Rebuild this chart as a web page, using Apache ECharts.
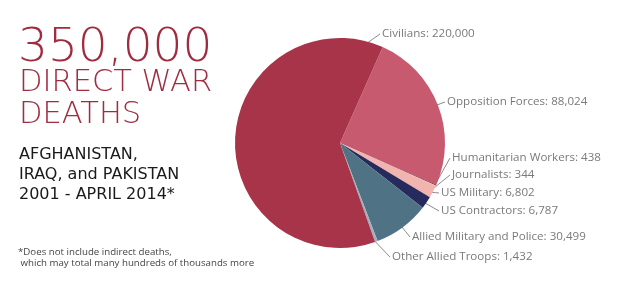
<!DOCTYPE html>
<html>
<head>
<meta charset="utf-8">
<script src="https://cdn.jsdelivr.net/npm/echarts@6/dist/echarts.min.js"></script>
<style>
  html, body { margin: 0; padding: 0; background: #fff; }
  #chart { width: 640px; height: 283px; }
</style>
</head>
<body>
<div id="chart"></div>
<script>
// slices in drawing order (clockwise from the Civilians/Opposition edge)
const categories = ['Opposition Forces', 'Humanitarian Workers', 'Journalists', 'US Military',
  'US Contractors', 'Allied Military and Police', 'Other Allied Troops', 'Civilians'];
const deaths = [88024, 438, 344, 6802, 6787, 30499, 1432, 220000];
const sliceColors = ['#c85a70', '#6a1e2a', '#e89a9a', '#f2b4ae', '#262a5c', '#4f7384', '#9fb0bc', '#a8344a'];

// where each leader line leaves the pie (deg clockwise from 12 o'clock) and where its text sits
const anchorAngle = [68.6, 112.8, 115.8, 118.3, 125.2, 143.6, 160.5, 15.4];
const labelPos = [[447, 102], [452, 158], [452, 175], [441, 193], [441, 211], [412, 237], [392, 257], [382, 34]];

const cx = 340, cy = 143, R = 105;

const chart = echarts.init(document.getElementById('chart'), null, { renderer: 'canvas' });

chart.setOption({
  animation: false,
  graphic: [
    { type: 'text', left: 18, top: 25, style: { text: '350,000', font: '200 47px "DejaVu Sans"', fill: '#a02c40' } },
    { type: 'text', left: 19, top: 68, style: { text: 'DIRECT WAR', font: '200 30.5px "DejaVu Sans"', fill: '#a02c40' } },
    { type: 'text', left: 19, top: 100, style: { text: 'DEATHS', font: '200 30.5px "DejaVu Sans"', fill: '#a02c40' } },
    { type: 'text', left: 19, top: 145, style: { text: 'AFGHANISTAN,\nIRAQ, and PAKISTAN\n2001 - APRIL 2014*', font: '16px "DejaVu Sans"', lineHeight: 20, fill: '#1a1a1a' } },
    { type: 'text', left: 18, top: 246, style: { text: '*Does not include indirect deaths,\n which may total many hundreds of thousands more', font: '9.7px "Open Sans"', lineHeight: 11.5, fill: '#444' } }
  ],
  series: [{
    type: 'pie',
    center: [cx, cy],
    radius: R,
    startAngle: 66,
    clockwise: true,
    avoidLabelOverlap: false,
    data: categories.map((name, i) => ({ name, value: deaths[i], itemStyle: { color: sliceColors[i] } })),
    label: {
      show: true,
      position: 'outside',
      formatter: p => p.name + ': ' + echarts.format.addCommas(p.value),
      fontFamily: 'Open Sans',
      fontSize: 11.6,
      color: '#7a7a7a'
    },
    labelLine: { show: true, length: 8, length2: 8, lineStyle: { color: '#8a8a8a', width: 1 } },
    labelLayout: function (params) {
      const i = params.dataIndex;
      const a = anchorAngle[i] * Math.PI / 180;
      const ex = cx + (R - 1) * Math.sin(a);
      const ey = cy - (R - 1) * Math.cos(a);
      const tx = labelPos[i][0], ty = labelPos[i][1];
      return {
        x: tx, y: ty, align: 'left', verticalAlign: 'middle',
        labelLinePoints: [[ex, ey], [(ex + tx - 2) / 2, (ey + ty) / 2], [tx - 2, ty]]
      };
    }
  }]
});
</script>
</body>
</html>
